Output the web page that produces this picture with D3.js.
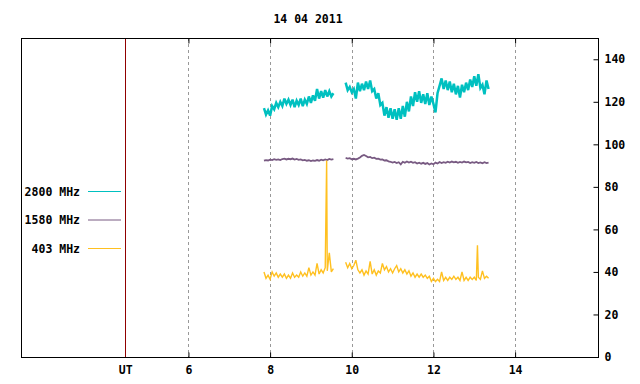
<!DOCTYPE html>
<html>
<head>
<meta charset="utf-8">
<script src="https://cdn.jsdelivr.net/npm/d3@7"></script>
<style>
  body { margin: 0; background: #fff; }
  text { font-family: "DejaVu Sans Mono", monospace; font-weight: bold; font-size: 11.5px; fill: #000; }
</style>
</head>
<body>
<svg width="640" height="384"></svg>
<script>
// radio flux, 14 04 2011, 0.05 h step
var title = "14 04 2011";
var seriesNames = ["2800 MHz", "1580 MHz", "403 MHz"];
var seriesColors = ["#00c0c0", "#785a82", "#ffc020"];
var xTickValues = [4.45, 6, 8, 10, 12, 14];
var xTickLabels = ["UT", "6", "8", "10", "12", "14"];
var yTickValues = [0, 20, 40, 60, 80, 100, 120, 140];

var step = 0.05;
var seg1Start = 7.85;   // first run, until 9.55
var seg2Start = 9.85;   // second run, until 13.35

var mhz2800a = [117, 114, 116, 113.5, 118, 116.5, 119.5, 117.5, 120, 118,
  121.5, 119, 121, 118.5, 121, 117.5, 120.5, 118.5, 121.5, 118,
  121, 119, 122.5, 119.5, 123, 120.5, 126, 121.5, 125, 122,
  125.5, 122.5, 125, 122.5, 124];
var mhz2800b = [129, 125.5, 127, 124.5,
  126, 121.5, 129, 125, 128.5, 125.5, 129.5, 126, 130, 125,
  126, 121.5, 124, 118.5, 119.5, 113.5, 117.5, 112.5, 117, 112,
  116.5, 111.5, 117, 112, 118, 113, 120, 115.5, 122.5, 118,
  124.5, 120, 125, 119.5, 123.5, 119, 124, 118.5, 122.5, 119,
  115, 124, 127.5, 131, 126, 130, 125.5, 129.5, 124.5, 128.5,
  123.5, 127.5, 122, 128, 124.5, 129, 125.5, 130.5, 127, 132,
  127.5, 133, 126.5, 128, 123.5, 130, 126];

var mhz1580a = [92.3, 92.6, 92.4, 92.8, 92.6, 93.0, 92.7, 92.9, 92.6, 93.1,
  93.3, 92.9, 93.2, 93.0, 93.3, 92.8, 93.1, 92.7, 92.9, 92.5,
  92.7, 92.3, 92.5, 92.1, 92.4, 92.2, 92.6, 92.3, 92.8, 92.5,
  92.9, 92.6, 93.1, 92.8, 93.0];
var mhz1580b = [93.6, 93.3, 93.5, 93.0, 93.2, 92.9, 93.3, 93.8, 94.6, 95.0,
  94.5, 93.9, 94.1, 93.5, 93.7, 93.2, 93.3, 92.8, 92.9, 92.4,
  92.5, 92.0, 91.8, 91.4, 91.7, 91.2, 91.6, 90.6, 91.8, 91.3,
  91.9, 91.4, 91.8, 91.3, 91.6, 91.0, 91.4, 90.9, 91.3, 90.8,
  91.2, 90.5, 91.0, 90.6, 91.4, 91.0, 91.7, 91.2, 91.6, 91.3,
  91.8, 91.4, 91.9, 91.5, 91.8, 91.3, 91.7, 91.4, 91.9, 91.5,
  91.7, 91.2, 91.6, 91.3, 91.7, 91.2, 91.5, 91.1, 91.6, 91.2,
  91.4];

var mhz403a = [40, 37, 38.5, 36.5, 40, 38, 39.5, 37.5, 39, 37.5,
  39, 37, 38.5, 37, 39.5, 37.5, 38.5, 37.5, 40, 38,
  39.5, 38, 42, 38.5, 40, 38.5, 44, 39, 41, 39.5,
  42, 40.5, 49, 40, 41.5];
var mhz403b = [44.5, 42, 44, 41.5, 43, 45.5, 41, 39.5, 41, 38.5,
  40.5, 39, 45, 39, 41, 38.5, 40.5, 39.5, 44, 41,
  42.5, 40, 41.5, 39.5, 41.5, 43, 40, 41.5, 39.5, 41,
  39, 40.5, 38, 39.5, 37.5, 39, 37.5, 39, 37.5, 38.5,
  37, 38, 35.5, 37, 35.5, 36.5, 35.5, 40, 36, 37.5,
  36, 37.5, 36.5, 38, 36.5, 37.5, 36, 40, 36, 37.5,
  36, 37.5, 36.5, 37.5, 36, 37.5, 36.5, 40.5, 37, 38,
  37];
// short bursts at 403 MHz
var mhz403Spikes = [[9.385, 92.4], [13.078, 52.5]];

var svg = d3.select("svg"),
    width = +svg.attr("width"),
    height = +svg.attr("height");

// plot box
var boxL = 21, boxR = 598, boxT = 38, boxB = 357;

var x = d3.scaleLinear().domain([1.9, 16.03]).range([boxL, boxR]);
var y = d3.scaleLinear().domain([0, 150]).range([boxB, boxT]);

function toPoints(start, vals) {
    return vals.map(function (v, i) { return [start + i * step, v]; });
}
function withSpikes(pts, spikes) {
    return pts.concat(spikes).sort(function (a, b) { return a[0] - b[0]; });
}

var series = [
    [toPoints(seg1Start, mhz2800a), toPoints(seg2Start, mhz2800b)],
    [toPoints(seg1Start, mhz1580a), toPoints(seg2Start, mhz1580b)],
    [withSpikes(toPoints(seg1Start, mhz403a), mhz403Spikes.slice(0, 1)),
     withSpikes(toPoints(seg2Start, mhz403b), mhz403Spikes.slice(1))]
];
var seriesWidth = [2.5, 1.8, 1.4];

// dashed hour grid
svg.append("g")
    .selectAll("line")
    .data(xTickValues.slice(1))
    .enter().append("line")
    .attr("x1", function (d) { return Math.round(x(d)) + 0.5; })
    .attr("x2", function (d) { return Math.round(x(d)) + 0.5; })
    .attr("y1", boxT)
    .attr("y2", boxB)
    .attr("stroke", "#999")
    .attr("stroke-dasharray", "3,3");

// UT marker
svg.append("line")
    .attr("x1", Math.round(x(xTickValues[0])) + 0.5)
    .attr("x2", Math.round(x(xTickValues[0])) + 0.5)
    .attr("y1", boxT)
    .attr("y2", boxB)
    .attr("stroke", "#900000");

var line = d3.line()
    .x(function (d) { return x(d[0]); })
    .y(function (d) { return y(d[1]); });

series.forEach(function (segs, i) {
    svg.append("g")
        .selectAll("path")
        .data(segs)
        .enter().append("path")
        .attr("d", line)
        .attr("fill", "none")
        .attr("stroke", seriesColors[i])
        .attr("stroke-width", seriesWidth[i])
        .attr("stroke-linejoin", "miter")
        .attr("stroke-miterlimit", 3);
});

// frame
svg.append("rect")
    .attr("x", boxL + 0.5)
    .attr("y", boxT + 0.5)
    .attr("width", boxR - boxL)
    .attr("height", boxB - boxT)
    .attr("fill", "none")
    .attr("stroke", "#000");

// axes
var xAxis = d3.axisBottom(x)
    .tickValues(xTickValues)
    .tickFormat(function (d, i) { return xTickLabels[i]; })
    .tickSizeInner(-5)
    .tickSizeOuter(0)
    .tickPadding(8);

var gx = svg.append("g")
    .attr("transform", "translate(0," + (boxB + 0.5) + ")")
    .call(xAxis);

var gxTop = svg.append("g")
    .attr("transform", "translate(0," + (boxT + 0.5) + ")")
    .call(d3.axisTop(x).tickValues(xTickValues.slice(1)).tickSizeInner(-5).tickSizeOuter(0).tickFormat(""));

var gy = svg.append("g")
    .attr("transform", "translate(" + (boxR + 0.5) + ",0)")
    .call(d3.axisRight(y).tickValues(yTickValues).tickSizeInner(-5).tickSizeOuter(0).tickPadding(6));

[gx, gxTop, gy].forEach(function (g) {
    g.select(".domain").remove();
    g.selectAll("line").attr("stroke", "#000");
    g.selectAll("text").attr("font-family", null).attr("font-size", null);
});
gx.selectAll(".tick line").filter(function (d) { return d === xTickValues[0]; }).remove();

// title
svg.append("text")
    .attr("x", 308)
    .attr("y", 23)
    .attr("text-anchor", "middle")
    .text(title);

// legend
var key = svg.append("g")
    .selectAll("g")
    .data(seriesNames)
    .enter().append("g")
    .attr("transform", function (d, i) { return "translate(0," + (191.5 + i * 28.5) + ")"; });

key.append("text")
    .attr("x", 80)
    .attr("dy", "0.35em")
    .attr("text-anchor", "end")
    .text(function (d) { return d; });

key.append("line")
    .attr("x1", 88)
    .attr("x2", 121)
    .attr("y1", 0)
    .attr("y2", 0)
    .attr("stroke", function (d, i) { return seriesColors[i]; });
</script>
</body>
</html>
